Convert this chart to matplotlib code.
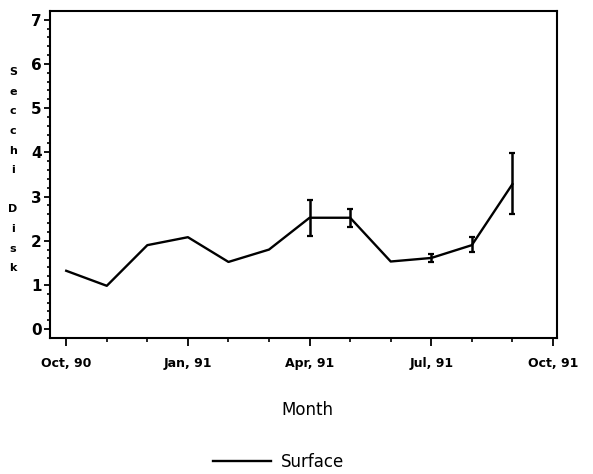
import matplotlib.pyplot as plt
import numpy as np

# Secchi disk depth, monthly means Oct 90 - Sep 91
months = ['Oct, 90', 'Nov, 90', 'Dec, 90', 'Jan, 91', 'Feb, 91', 'Mar, 91',
          'Apr, 91', 'May, 91', 'Jun, 91', 'Jul, 91', 'Aug, 91', 'Sep, 91']
secchi = [1.32, 0.98, 1.9, 2.08, 1.52, 1.8, 2.52, 2.52, 1.53, 1.61, 1.9, 3.28]
err_low = [0, 0, 0, 0, 0, 0, 0.42, 0.22, 0, 0.1, 0.16, 0.68]
err_high = [0, 0, 0, 0, 0, 0, 0.4, 0.2, 0, 0.1, 0.18, 0.7]

tick_labels = ['Oct, 90', 'Jan, 91', 'Apr, 91', 'Jul, 91', 'Oct, 91']
tick_pos = [0, 3, 6, 9, 12]

fig = plt.figure(figsize=(5.93, 4.74), dpi=100)
ax = fig.add_axes([0.0843, 0.287, 0.855, 0.69])

x = np.arange(len(months))
line, = ax.plot(x, secchi, color='black', lw=1.7)
has_err = [i for i in range(len(x)) if err_low[i] > 0]
ax.errorbar(x[has_err], np.array(secchi)[has_err],
            yerr=[np.array(err_low)[has_err], np.array(err_high)[has_err]],
            fmt='none', ecolor='black', elinewidth=1.8, capsize=2.5, capthick=1.6)

ax.set_xlim(-0.4, 12.1)
ax.set_ylim(-0.2, 7.2)
ax.set_xticks(tick_pos)
ax.set_xticklabels(tick_labels, fontsize=9, fontweight='bold')
ax.set_xticks(np.arange(0, 13), minor=True)
ax.set_yticks(range(0, 8))
ax.set_yticklabels([str(v) for v in range(0, 8)], fontsize=11, fontweight='bold')
ax.set_yticks(np.arange(0, 7.01, 0.2), minor=True)
ax.tick_params(axis='x', which='major', length=6, width=1.3, pad=8)
ax.tick_params(axis='x', which='minor', length=3, width=1.2)
ax.tick_params(axis='y', which='major', length=4, width=1.3, pad=2)
ax.tick_params(axis='y', which='minor', length=2, width=1.2)
for s in ax.spines.values():
    s.set_linewidth(1.5)

# stacked-letter y label
fig.text(0.022, 0.641, '\n'.join('Secchi Disk'), ha='center', va='center',
         fontsize=8, fontweight='bold', linespacing=2.2)

fig.text(0.518, 0.135, 'Month', ha='center', va='center', fontsize=12)
fig.legend([line], ['Surface'], loc='center', bbox_to_anchor=(0.47, 0.025),
           frameon=False, fontsize=12, handlelength=3.5, handletextpad=0.6)

fig.savefig('out.png', dpi=100)
